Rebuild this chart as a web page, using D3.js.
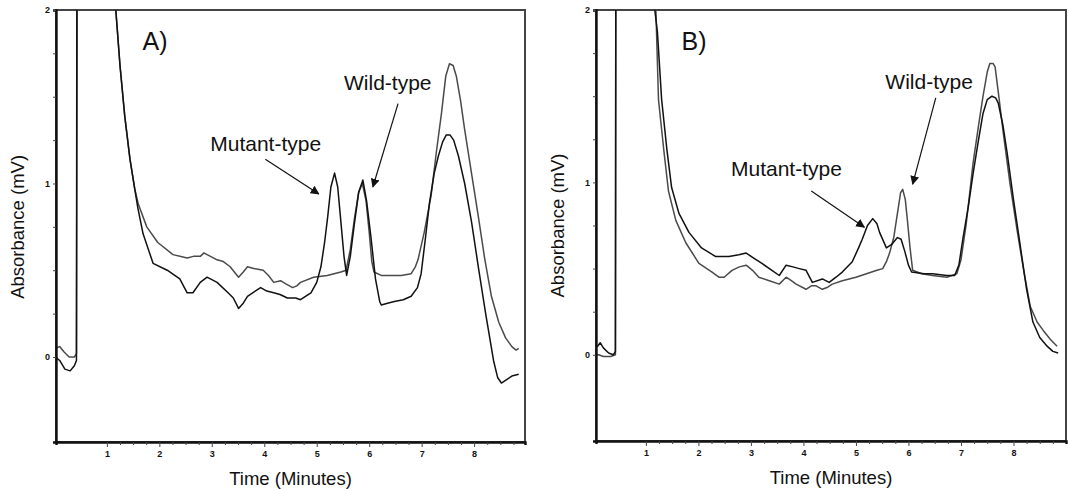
<!DOCTYPE html>
<meta charset="utf-8">
<style>
  body { margin: 0; background: #fff; }
  svg { font-family: "Liberation Sans", Arial, sans-serif; }
  .trace { fill: none; stroke-width: 1.5px; stroke-linejoin: round; }
  .tick-label { font-size: 9px; font-weight: bold; fill: #111; }
  .axis-title { font-size: 18.5px; fill: #111; }
  .note { font-size: 21px; fill: #111; }
  .panel-tag { font-size: 25px; fill: #111; }
</style>
<svg width="1068" height="489"></svg>
<script src="https://d3js.org/d3.v7.min.js"></script>
<script>

// [time (min), absorbance (mV)]
var traceA_mix = [[0.02,0.0],[0.1,-0.02],[0.2,-0.07],[0.3,-0.08],[0.38,-0.05],[0.42,-0.02],[0.43,3],[1.12,3],[1.17,2.0],[1.25,1.68],[1.34,1.39],[1.44,1.14],[1.53,0.97],[1.59,0.86],[1.69,0.71],[1.88,0.54],[2.15,0.50],[2.39,0.45],[2.53,0.37],[2.64,0.37],[2.78,0.43],[2.91,0.46],[3.10,0.43],[3.31,0.37],[3.41,0.34],[3.51,0.28],[3.60,0.31],[3.68,0.35],[3.93,0.40],[4.05,0.38],[4.18,0.37],[4.30,0.36],[4.44,0.34],[4.60,0.34],[4.69,0.33],[4.89,0.37],[5.00,0.43],[5.08,0.52],[5.15,0.66],[5.21,0.81],[5.27,0.98],[5.34,1.06],[5.40,0.98],[5.46,0.78],[5.52,0.58],[5.57,0.47],[5.64,0.58],[5.71,0.75],[5.80,0.95],[5.88,1.02],[5.95,0.90],[6.03,0.70],[6.12,0.45],[6.20,0.32],[6.23,0.30],[6.35,0.31],[6.48,0.32],[6.65,0.33],[6.80,0.35],[6.92,0.40],[6.99,0.48],[7.07,0.68],[7.15,0.89],[7.24,1.06],[7.32,1.16],[7.40,1.24],[7.47,1.28],[7.54,1.28],[7.61,1.25],[7.70,1.16],[7.82,1.00],[7.95,0.78],[8.08,0.52],[8.22,0.25],[8.37,-0.02],[8.45,-0.12],[8.52,-0.15],[8.62,-0.13],[8.72,-0.11],[8.85,-0.10]];

var traceA_wild = [[0.02,0.05],[0.1,0.06],[0.18,0.03],[0.28,0.0],[0.38,0.0],[0.42,0.02],[0.44,3],[1.12,3],[1.17,2.0],[1.25,1.68],[1.34,1.39],[1.44,1.14],[1.53,0.97],[1.60,0.88],[1.76,0.75],[1.97,0.66],[2.26,0.59],[2.53,0.57],[2.65,0.58],[2.78,0.58],[2.85,0.60],[2.91,0.59],[3.10,0.56],[3.22,0.55],[3.35,0.52],[3.51,0.46],[3.60,0.49],[3.68,0.52],[3.80,0.51],[3.98,0.50],[4.08,0.47],[4.18,0.43],[4.31,0.44],[4.42,0.42],[4.54,0.40],[4.62,0.41],[4.69,0.43],[4.94,0.46],[5.20,0.47],[5.46,0.49],[5.56,0.50],[5.64,0.62],[5.72,0.80],[5.80,0.95],[5.87,1.00],[5.94,0.90],[6.00,0.72],[6.05,0.55],[6.09,0.49],[6.23,0.47],[6.40,0.47],[6.61,0.47],[6.80,0.48],[6.88,0.52],[6.93,0.56],[7.05,0.72],[7.18,0.93],[7.28,1.18],[7.38,1.41],[7.46,1.62],[7.53,1.69],[7.60,1.68],[7.66,1.62],[7.74,1.48],[7.82,1.31],[7.95,1.06],[8.08,0.81],[8.20,0.57],[8.33,0.35],[8.47,0.20],[8.60,0.11],[8.72,0.06],[8.80,0.04],[8.85,0.05]];

var traceB_mix = [[0.02,0.04],[0.08,0.05],[0.13,0.07],[0.19,0.04],[0.29,0.01],[0.38,0.0],[0.42,0.02],[0.43,3],[1.12,3],[1.17,2.0],[1.22,1.87],[1.30,1.48],[1.40,1.19],[1.49,0.97],[1.63,0.82],[1.82,0.71],[2.06,0.62],[2.33,0.57],[2.58,0.57],[2.77,0.58],[2.91,0.59],[3.06,0.56],[3.21,0.53],[3.40,0.49],[3.54,0.46],[3.67,0.52],[3.80,0.51],[3.92,0.50],[4.05,0.49],[4.17,0.42],[4.36,0.44],[4.49,0.42],[4.62,0.45],[4.74,0.48],[4.93,0.54],[5.05,0.62],[5.12,0.67],[5.22,0.75],[5.32,0.79],[5.40,0.76],[5.45,0.71],[5.58,0.62],[5.68,0.64],[5.79,0.68],[5.86,0.67],[5.93,0.60],[6.00,0.52],[6.06,0.48],[6.30,0.47],[6.46,0.47],[6.73,0.46],[6.88,0.46],[6.96,0.52],[7.04,0.68],[7.14,0.86],[7.23,1.05],[7.33,1.24],[7.42,1.40],[7.50,1.48],[7.59,1.50],[7.66,1.49],[7.71,1.46],[7.80,1.33],[7.88,1.17],[8.00,0.90],[8.13,0.63],[8.25,0.38],[8.37,0.19],[8.50,0.10],[8.64,0.05],[8.75,0.02],[8.85,0.01]];

var traceB_wild = [[0.02,0.0],[0.1,0.0],[0.19,-0.01],[0.33,-0.01],[0.42,0.0],[0.43,3],[1.14,3],[1.19,2.0],[1.24,1.48],[1.34,1.19],[1.43,0.95],[1.57,0.78],[1.76,0.65],[2.01,0.53],[2.26,0.48],[2.39,0.45],[2.49,0.45],[2.64,0.49],[2.78,0.51],[2.91,0.52],[3.03,0.49],[3.15,0.45],[3.35,0.43],[3.54,0.41],[3.67,0.45],[3.77,0.43],[3.86,0.41],[4.05,0.38],[4.15,0.40],[4.24,0.40],[4.36,0.38],[4.45,0.39],[4.55,0.41],[4.74,0.43],[5.00,0.45],[5.20,0.47],[5.40,0.49],[5.51,0.50],[5.58,0.54],[5.64,0.59],[5.72,0.68],[5.79,0.82],[5.85,0.94],[5.89,0.96],[5.94,0.90],[5.98,0.78],[6.03,0.62],[6.08,0.49],[6.25,0.47],[6.46,0.46],[6.73,0.45],[6.92,0.47],[7.00,0.55],[7.10,0.76],[7.23,1.11],[7.33,1.32],[7.42,1.50],[7.50,1.64],[7.55,1.69],[7.61,1.69],[7.65,1.67],[7.72,1.50],[7.80,1.30],[7.93,1.00],[8.07,0.72],[8.20,0.48],[8.32,0.28],[8.45,0.19],[8.57,0.14],[8.70,0.09],[8.83,0.05]];

var xTickValues = [1, 2, 3, 4, 5, 6, 7, 8];
var yTickValues = [0, 1, 2];

// annotation anchors in data units: text [t, v], arrow [t0, v0, t1, v1]
var notesA = [
  {label: "Mutant-type", at: [2.97, 1.185], arrow: [4.02, 1.14, 5.04, 0.94]},
  {label: "Wild-type",   at: [5.52, 1.54],  arrow: [6.55, 1.46, 6.07, 0.98]}
];
var notesB = [
  {label: "Mutant-type", at: [2.62, 1.04], arrow: [4.15, 0.95, 5.16, 0.74]},
  {label: "Wild-type",   at: [5.56, 1.54], arrow: [6.52, 1.49, 6.08, 0.99]}
];

var svg = d3.select("svg");

svg.append("defs").append("marker")
    .attr("id", "head")
    .attr("viewBox", "0 0 10 10")
    .attr("refX", 9).attr("refY", 5)
    .attr("markerWidth", 9).attr("markerHeight", 9)
    .attr("markerUnits", "userSpaceOnUse")
    .attr("orient", "auto")
  .append("path")
    .attr("d", "M0,0L10,5L0,10Z")
    .attr("fill", "#111");

function drawPanel(id, box, xDom, yDom, tag, traces, notes) {
    var x = d3.scaleLinear().domain(xDom).range([box.left, box.right]);
    var y = d3.scaleLinear().domain(yDom).range([box.bottom, box.top]);
    var g = svg.append("g");

    g.append("clipPath").attr("id", "clip" + id)
      .append("rect")
        .attr("x", box.left).attr("y", box.top)
        .attr("width", box.right - box.left).attr("height", box.bottom - box.top);

    g.append("rect")
        .attr("x", box.left).attr("y", box.top)
        .attr("width", box.right - box.left).attr("height", box.bottom - box.top)
        .attr("fill", "none").attr("stroke", "#444").attr("stroke-width", 2);

    var line = d3.line().x(function(d) { return x(d[0]); }).y(function(d) { return y(d[1]); });

    g.append("g").attr("clip-path", "url(#clip" + id + ")")
      .selectAll("path")
      .data(traces)
      .enter().append("path")
        .attr("class", "trace")
        .attr("stroke", function(d) { return d.color; })
        .attr("d", function(d) { return line(d.values); });

    // axes: minor ticks every 0.25
    var xMinor = d3.range(1, 8.76, 0.25);
    var yMinor = d3.range(0, 2.01, 0.25);
    var xAxis = d3.axisBottom(x).tickValues(xMinor).tickSize(3)
        .tickFormat(function(d) { return xTickValues.indexOf(d) >= 0 ? d : ""; });
    var yAxis = d3.axisLeft(y).tickValues(yMinor).tickSize(3)
        .tickFormat(function(d) { return yTickValues.indexOf(d) >= 0 ? d : ""; });

    var gx = g.append("g").attr("transform", "translate(0," + box.bottom + ")").call(xAxis);
    var gy = g.append("g").attr("transform", "translate(" + box.left + ",0)").call(yAxis);
    [gx, gy].forEach(function(a) {
        a.select(".domain").attr("stroke", "#111").attr("stroke-width", 2.4);
        a.selectAll(".tick line").attr("stroke", "#444");
        a.selectAll(".tick text").attr("class", "tick-label");
    });
    gx.selectAll(".tick").filter(function(d) { return xTickValues.indexOf(d) >= 0; })
        .select("line").attr("y2", 5);
    gx.selectAll(".tick text").attr("y", 9);
    gy.selectAll(".tick text").attr("x", -6);

    g.append("text").attr("class", "axis-title")
        .attr("x", (box.left + box.right) / 2).attr("y", box.bottom + 43)
        .attr("text-anchor", "middle").text("Time (Minutes)");
    g.append("text").attr("class", "axis-title")
        .attr("transform", "translate(" + (box.left - 32) + "," + y(0.75) + ") rotate(-90)")
        .attr("text-anchor", "middle").text("Absorbance (mV)");

    g.append("text").attr("class", "panel-tag")
        .attr("x", x(1.68)).attr("y", y(1.77)).text(tag);

    notes.forEach(function(n) {
        g.append("text").attr("class", "note")
            .attr("x", x(n.at[0])).attr("y", y(n.at[1])).text(n.label);
        g.append("line")
            .attr("x1", x(n.arrow[0])).attr("y1", y(n.arrow[1]))
            .attr("x2", x(n.arrow[2])).attr("y2", y(n.arrow[3]))
            .attr("stroke", "#111").attr("stroke-width", 1.2)
            .attr("marker-end", "url(#head)");
    });
}

drawPanel("A", {left: 56, right: 525, top: 10, bottom: 442}, [0.03, 8.97], [-0.49, 2], "A)",
    [{values: traceA_wild, color: "#4a4a4a"}, {values: traceA_mix, color: "#111"}], notesA);
drawPanel("B", {left: 596, right: 1066, top: 10, bottom: 441}, [0.05, 9.0], [-0.5, 2], "B)",
    [{values: traceB_wild, color: "#4a4a4a"}, {values: traceB_mix, color: "#111"}], notesB);

</script>
